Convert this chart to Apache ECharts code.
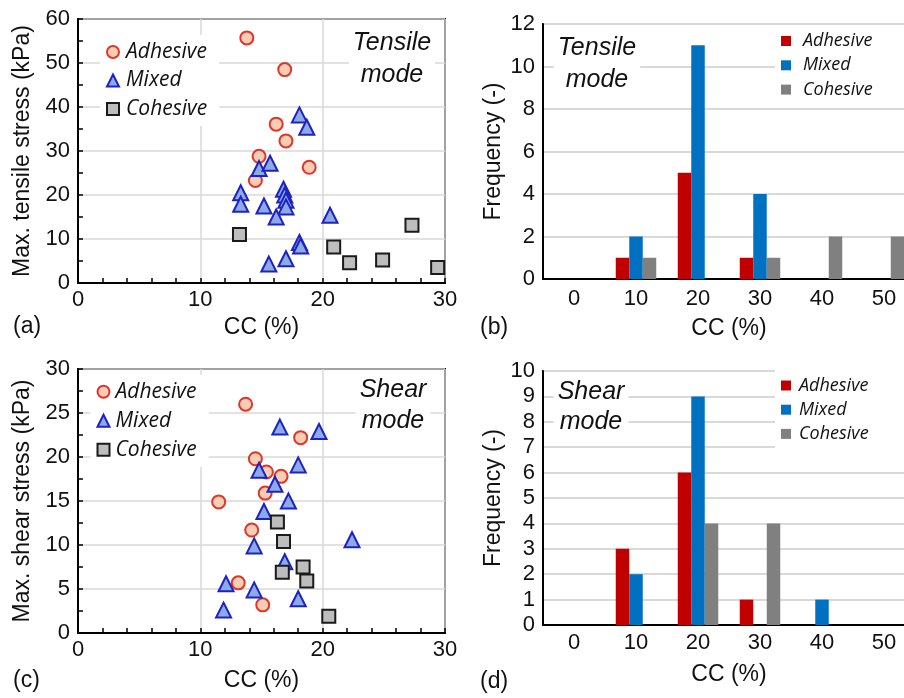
<!DOCTYPE html>
<html>
<head>
<meta charset="utf-8">
<script src="https://cdn.jsdelivr.net/npm/echarts@6.0.0/dist/echarts.min.js"></script>
<style>
  html, body { margin: 0; padding: 0; background: #fff; }
  #chart { width: 904px; height: 698px; }
</style>
</head>
<body>
<div id="chart"></div>
<script>
// ---- Scatter data: [CC (%), max. stress (kPa)] per specimen ----
const tensileAdhesive = [[13.8, 55.7], [16.9, 48.5], [16.2, 36.1], [17.0, 32.3], [14.8, 28.8], [18.9, 26.3], [14.5, 23.3]];
const tensileMixed = [[18.1, 38.2], [18.7, 35.4], [14.8, 26.0], [15.7, 27.2], [13.3, 20.5], [13.3, 17.9],
  [16.8, 21.3], [16.9, 20.0], [17.0, 18.8], [17.0, 17.3], [15.2, 17.5], [16.2, 15.0], [20.6, 15.4],
  [18.1, 9.2], [18.2, 8.4], [15.6, 4.3], [17.0, 5.5]];
const tensileCohesive = [[13.2, 11.0], [20.9, 8.2], [22.2, 4.6], [24.9, 5.2], [27.3, 13.1], [29.4, 3.5]];

const shearAdhesive = [[13.7, 26.0], [18.2, 22.2], [14.5, 19.8], [15.4, 18.3], [16.6, 17.8], [15.3, 15.9],
  [11.5, 14.9], [14.2, 11.7], [13.1, 5.7], [15.1, 3.2]];
const shearMixed = [[16.5, 23.4], [19.7, 22.9], [18.0, 19.1], [14.8, 18.5], [16.1, 16.9], [17.2, 15.0],
  [15.2, 13.8], [22.4, 10.6], [14.4, 9.9], [16.9, 8.1], [12.1, 5.6], [14.4, 4.9], [18.0, 3.9], [11.9, 2.6]];
const shearCohesive = [[16.3, 12.6], [16.8, 10.4], [16.7, 6.9], [18.4, 7.5], [18.7, 5.9], [20.5, 1.9]];

// ---- Histogram data ----
const ccBins = ['0', '10', '20', '30', '40', '50'];
const tensileFreqAdhesive = [0, 1, 5, 1, 0, 0];
const tensileFreqMixed = [0, 2, 11, 4, 0, 0];
const tensileFreqCohesive = [0, 1, 0, 1, 2, 2];
const shearFreqAdhesive = [0, 3, 6, 1, 0, 0];
const shearFreqMixed = [0, 2, 9, 0, 1, 0];
const shearFreqCohesive = [0, 0, 4, 4, 0, 0];

const FONT = '"Liberation Sans", Arial, Helvetica, sans-serif';
const LEGEND_FONT = '"Open Sans", Lato, sans-serif';
const INK = '#111';
const GRID_LINE = '#d9d9d9';
const TICK = '#000';

const chart = echarts.init(document.getElementById('chart'), null, { renderer: 'canvas' });

const grids = [
  { left: 78, top: 19, width: 367, height: 264 },   // tensile scatter
  { left: 543, top: 24, width: 372, height: 255 },  // tensile histogram
  { left: 78, top: 369, width: 367, height: 264 },  // shear scatter
  { left: 543, top: 371, width: 372, height: 254 }  // shear histogram
].map(g => Object.assign({ show: true, borderColor: '#000', borderWidth: 2, backgroundColor: 'transparent', outerBoundsMode: 'none' }, g));

const nameStyle = { fontFamily: FONT, fontSize: 23, color: INK };

function scatterX(gridIndex, nameGap) {
  return {
    type: 'value', gridIndex, min: 0, max: 30, interval: 10,
    name: 'CC (%)', nameLocation: 'middle', nameGap, nameTextStyle: nameStyle,
    axisLine: { show: true, onZero: false, lineStyle: { color: '#000', width: 2 } },
    axisTick: { show: true, inside: true, length: 5, lineStyle: { color: TICK, width: 1.5 } },
    minorTick: { show: true, splitNumber: 5, length: 5, lineStyle: { color: TICK, width: 1.5 } },
    axisLabel: { fontFamily: FONT, fontSize: 22, color: INK, margin: 6 },
    splitLine: { show: true, lineStyle: { color: GRID_LINE, width: 1.5 } }
  };
}

function scatterY(gridIndex, max, interval, name, nameGap) {
  return {
    type: 'value', gridIndex, min: 0, max, interval,
    name, nameLocation: 'middle', nameGap, nameTextStyle: nameStyle,
    axisLine: { show: true, onZero: false, lineStyle: { color: '#000', width: 2 } },
    axisTick: { show: true, inside: true, length: 5, lineStyle: { color: TICK, width: 1.5 } },
    minorTick: { show: true, splitNumber: 2, length: 5, lineStyle: { color: TICK, width: 1.5 } },
    axisLabel: { fontFamily: FONT, fontSize: 22, color: INK, margin: 8 },
    splitLine: { show: true, lineStyle: { color: GRID_LINE, width: 1.5 } }
  };
}

function barX(gridIndex, margin, nameGap) {
  return {
    type: 'category', gridIndex, data: ccBins, boundaryGap: true,
    name: 'CC (%)', nameLocation: 'middle', nameGap, nameTextStyle: nameStyle,
    axisLine: { show: true, lineStyle: { color: '#000', width: 2 } },
    axisTick: { show: false },
    axisLabel: { fontFamily: FONT, fontSize: 22, color: INK, margin, interval: 0 },
    splitLine: { show: false }
  };
}

function barY(gridIndex, max, interval, nameGap) {
  return {
    type: 'value', gridIndex, min: 0, max, interval,
    name: 'Frequency (-)', nameLocation: 'middle', nameGap, nameTextStyle: nameStyle,
    axisLine: { show: true, lineStyle: { color: '#000', width: 2 } },
    axisTick: { show: false },
    axisLabel: { fontFamily: FONT, fontSize: 22, color: INK, margin: 8 },
    splitLine: { show: true, lineStyle: { color: GRID_LINE, width: 2 } }
  };
}

const marker = {
  Adhesive: { symbol: 'circle', size: 13, fill: '#f9cdb4', stroke: '#e0352b' },
  Mixed: { symbol: 'triangle', size: 15, fill: '#8eaae6', stroke: '#1c22c4' },
  Cohesive: { symbol: 'rect', size: 13, fill: '#bdbdbd', stroke: '#1a1a1a' }
};

function scatterSeries(kind, tag, data, axisIndex) {
  const m = marker[kind];
  return {
    type: 'scatter', name: kind + ' (' + tag + ')', data,
    xAxisIndex: axisIndex, yAxisIndex: axisIndex,
    symbol: m.symbol, symbolSize: m.size,
    itemStyle: { color: m.fill, borderColor: m.stroke, borderWidth: 2, opacity: 1 },
    emphasis: { disabled: true }
  };
}

const barColor = { Adhesive: '#c00000', Mixed: '#0070c0', Cohesive: '#808080' };

function barSeries(kind, tag, data, axisIndex) {
  return {
    type: 'bar', name: kind + ' (' + tag + ')', data,
    xAxisIndex: axisIndex, yAxisIndex: axisIndex,
    barWidth: 13.5, barGap: '0%',
    itemStyle: { color: barColor[kind] },
    emphasis: { disabled: true }
  };
}

const stripTag = name => name.replace(/ \(.*\)$/, '');

function legend(tag, icons, opts) {
  return Object.assign({
    orient: 'vertical', selectedMode: false, backgroundColor: '#fff',
    data: ['Adhesive', 'Mixed', 'Cohesive'].map((k, i) => ({ name: k + ' (' + tag + ')', icon: icons[i] })),
    formatter: stripTag
  }, opts);
}

const scatterLegendText = (pad) => ({ fontFamily: LEGEND_FONT, fontStyle: 'italic', fontSize: 21, lineHeight: 22, color: INK, padding: [0, 0, 0, pad] });
const barLegendText = (pad) => ({ fontFamily: LEGEND_FONT, fontStyle: 'italic', fontSize: 18, lineHeight: 19, color: INK, padding: [0, 0, 0, pad] });

function modeLabel(text, x, y, lineHeight) {
  return {
    type: 'text', x, y, z: 3,
    style: {
      text, align: 'center', verticalAlign: 'middle',
      fontFamily: FONT, fontStyle: 'italic', fontSize: 25, lineHeight,
      fill: INK, backgroundColor: '#fff', padding: [0, 4]
    }
  };
}

function panelLabel(text, x, y) {
  return {
    type: 'text', x, y, z: 3,
    style: { text, align: 'left', verticalAlign: 'middle', fontFamily: FONT, fontSize: 23, fill: INK }
  };
}

const option = {
  backgroundColor: '#fff',
  animation: false,
  grid: grids,
  xAxis: [scatterX(0, 33), barX(1, 9, 38), scatterX(2, 36), barX(3, 7, 38)],
  yAxis: [
    scatterY(0, 60, 10, 'Max. tensile stress (kPa)', 44),
    barY(1, 12, 2, 38),
    scatterY(2, 30, 5, 'Max. shear stress (kPa)', 44),
    barY(3, 10, 1, 38)
  ],
  legend: [
    legend('tensile', ['circle', 'triangle', 'rect'], {
      left: 100, top: 35, itemWidth: 12, itemHeight: 12, itemGap: 6.5,
      padding: [6, 12, 6, 6], textStyle: scatterLegendText(2)
    }),
    legend('tensile freq', ['rect', 'rect', 'rect'], {
      left: 775, top: 25.5, itemWidth: 10, itemHeight: 10, itemGap: 5.3,
      padding: [6, 60, 6, 6], textStyle: barLegendText(7)
    }),
    legend('shear', ['circle', 'triangle', 'rect'], {
      left: 90.5, top: 374.7, itemWidth: 12, itemHeight: 12, itemGap: 7,
      padding: [6, 12, 6, 6], textStyle: scatterLegendText(1)
    }),
    legend('shear freq', ['rect', 'rect', 'rect'], {
      left: 775, top: 370, itemWidth: 10, itemHeight: 10, itemGap: 5.2,
      padding: [6, 60, 6, 6], textStyle: barLegendText(3)
    })
  ],
  series: [
    scatterSeries('Adhesive', 'tensile', tensileAdhesive, 0),
    scatterSeries('Mixed', 'tensile', tensileMixed, 0),
    scatterSeries('Cohesive', 'tensile', tensileCohesive, 0),
    barSeries('Adhesive', 'tensile freq', tensileFreqAdhesive, 1),
    barSeries('Mixed', 'tensile freq', tensileFreqMixed, 1),
    barSeries('Cohesive', 'tensile freq', tensileFreqCohesive, 1),
    scatterSeries('Adhesive', 'shear', shearAdhesive, 2),
    scatterSeries('Mixed', 'shear', shearMixed, 2),
    scatterSeries('Cohesive', 'shear', shearCohesive, 2),
    barSeries('Adhesive', 'shear freq', shearFreqAdhesive, 3),
    barSeries('Mixed', 'shear freq', shearFreqMixed, 3),
    barSeries('Cohesive', 'shear freq', shearFreqCohesive, 3)
  ],
  graphic: [
    modeLabel('Tensile\nmode', 392, 59, 32),
    modeLabel('Tensile\nmode', 597, 64, 32),
    modeLabel('Shear\nmode', 393, 405.5, 31),
    modeLabel('Shear\nmode', 591, 406.7, 30),
    panelLabel('(a)', 13, 327),
    panelLabel('(b)', 480, 328),
    panelLabel('(c)', 13, 681),
    panelLabel('(d)', 480, 682)
  ]
};

chart.setOption(option);
</script>
</body>
</html>
